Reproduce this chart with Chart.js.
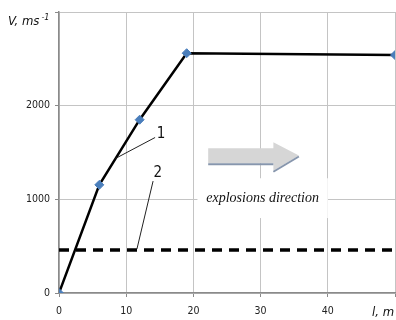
<!DOCTYPE html>
<html>
<head>
<meta charset="utf-8">
<script src="https://cdn.jsdelivr.net/npm/chart.js@4.4.1/dist/chart.umd.min.js"></script>
<style>
  html, body { margin: 0; padding: 0; background: #fff; }
  #wrap { position: relative; width: 396px; height: 320px; }
</style>
</head>
<body>
<div id="wrap"><canvas id="chart" width="396" height="320"></canvas></div>
<script>
// Velocity of the detonation front along the charge (curve 1) and
// the threshold level (line 2).
const distances = [0, 6, 12, 19, 50];
const velocities = [0, 1155, 1850, 2560, 2540];
const thresholdX = [0, 50];
const thresholdV = [460, 460];
const xTicks = [0, 10, 20, 30, 40, 50];
const yTicks = [0, 1000, 2000, 3000];

const GRID = '#c4c4c4';
const AXIS = '#8a8a8a';
const SANS = '"Liberation Sans Narrow", "DejaVu Sans Condensed", "Liberation Sans", Arial';
const TICK_FONT = { family: SANS, size: 10.5 };

// callouts, arrow and axis captions, positioned in data units
const annotations = {
  id: 'annotations',
  afterDatasetsDraw(chart) {
    const { ctx, scales: { x, y } } = chart;
    const px = v => x.getPixelForValue(v);
    const py = v => y.getPixelForValue(v);
    ctx.save();

    // white box behind the direction caption
    ctx.fillStyle = '#fff';
    ctx.fillRect(px(20.6), py(1225), px(40.0) - px(20.6), py(800) - py(1225));

    // block arrow
    const shaftTop = py(1545), shaftBot = py(1385);
    const headTop = py(1610), headBot = py(1305), tipY = py(1468);
    const x0 = px(22.2), xh = px(31.9), xt = px(35.7);
    ctx.beginPath();
    ctx.moveTo(x0, shaftTop);
    ctx.lineTo(xh, shaftTop);
    ctx.lineTo(xh, headTop);
    ctx.lineTo(xt, tipY);
    ctx.lineTo(xh, headBot);
    ctx.lineTo(xh, shaftBot);
    ctx.lineTo(x0, shaftBot);
    ctx.closePath();
    ctx.fillStyle = '#d6d6d6';
    ctx.fill();
    // darker shadow on the lower edges
    ctx.beginPath();
    ctx.moveTo(x0, shaftBot + 1);
    ctx.lineTo(xh, shaftBot + 1);
    ctx.moveTo(xh, headBot + 1);
    ctx.lineTo(xt, tipY + 1);
    ctx.strokeStyle = '#8796ad';
    ctx.lineWidth = 2;
    ctx.stroke();

    ctx.fillStyle = '#111';
    ctx.font = 'italic 14px "Liberation Serif", "DejaVu Serif", serif';
    ctx.textAlign = 'center';
    ctx.textBaseline = 'middle';
    ctx.fillText('explosions direction', px(30.3), py(1015));

    // leader lines
    ctx.strokeStyle = '#222';
    ctx.lineWidth = 1;
    ctx.beginPath();
    ctx.moveTo(px(14.3), py(1660));
    ctx.lineTo(px(8.4), py(1436));
    ctx.moveTo(px(14.0), py(1195));
    ctx.lineTo(px(11.6), py(470));
    ctx.stroke();

    ctx.font = '15px ' + SANS;
    ctx.fillStyle = '#111';
    ctx.fillText('1', px(15.2), py(1700));
    ctx.fillText('2', px(14.7), py(1280));

    // axis captions
    ctx.font = 'italic 13px ' + SANS;
    ctx.textAlign = 'left';
    ctx.textBaseline = 'alphabetic';
    ctx.fillText('V, ms', 8, 25);
    const w = ctx.measureText('V, ms').width;
    ctx.font = 'italic 9px ' + SANS;
    ctx.fillText('-1', w + 10, 20);
    ctx.font = 'italic 13px ' + SANS;
    ctx.fillText('l, m', 372, 316);
    ctx.restore();
  }
};

new Chart(document.getElementById('chart'), {
  type: 'line',
  data: {
    datasets: [
      {
        data: distances.map((d, i) => ({ x: d, y: velocities[i] })),
        borderColor: '#000',
        borderWidth: 2.5,
        pointStyle: 'rectRot',
        pointRadius: 4.5,
        pointBackgroundColor: '#4a7ebb',
        pointBorderColor: '#4a7ebb',
        pointBorderWidth: 1,
        tension: 0,
      },
      {
        data: thresholdX.map((d, i) => ({ x: d, y: thresholdV[i] })),
        borderColor: '#000',
        borderWidth: 3.5,
        borderDash: [10, 7],
        pointRadius: 0,
      }
    ]
  },
  options: {
    responsive: false,
    animation: false,
    layout: { autoPadding: false, padding: { top: 12, right: 1, left: 0, bottom: 0 } },
    plugins: { legend: { display: false }, tooltip: { enabled: false } },
    scales: {
      x: {
        type: 'linear',
        min: 0, max: 50,
        afterBuildTicks: s => { s.ticks = xTicks.map(v => ({ value: v })); },
        afterFit: s => { s.height = 27; s.paddingLeft = 0; s.paddingRight = 0; },
        ticks: {
          font: TICK_FONT, color: '#222', padding: 8, maxRotation: 0,
          callback: v => (v === 50 ? '' : v),
        },
        grid: { color: GRID, tickColor: AXIS, tickLength: 4 },
        border: { color: AXIS, width: 1.5 },
      },
      y: {
        min: 0, max: 3000,
        afterBuildTicks: s => { s.ticks = yTicks.map(v => ({ value: v })); },
        afterFit: s => { s.width = 59; s.paddingTop = 0; s.paddingBottom = 0; },
        ticks: {
          font: TICK_FONT, color: '#222', padding: 5,
          callback: v => (v === 3000 ? '' : v),
        },
        grid: { color: GRID, tickColor: AXIS, tickLength: 4 },
        border: { color: AXIS, width: 1.5 },
      }
    }
  },
  plugins: [annotations]
});
</script>
</body>
</html>
